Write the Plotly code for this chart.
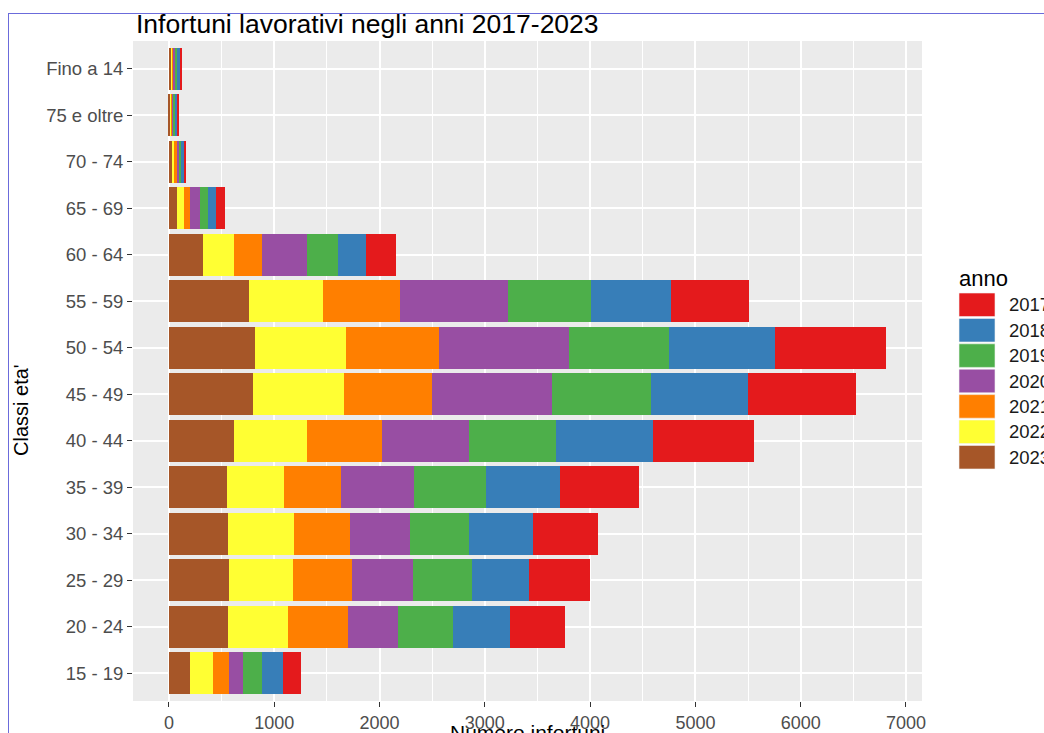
import plotly.graph_objects as go

categories = ["15 - 19", "20 - 24", "25 - 29", "30 - 34", "35 - 39", "40 - 44",
              "45 - 49", "50 - 54", "55 - 59", "60 - 64", "65 - 69", "70 - 74",
              "75 e oltre", "Fino a 14"]

v2023 = [201, 557, 572, 557, 554, 618, 802, 820, 757, 324, 73, 38, 15, 20]
v2022 = [218, 570, 602, 631, 542, 690, 865, 865, 711, 292, 69, 10, 10, 10]
v2021 = [153, 570, 567, 531, 538, 712, 831, 878, 723, 264, 57, 25, 10, 15]
v2020 = [127, 483, 573, 566, 695, 832, 1140, 1232, 1034, 432, 98, 22, 12, 15]
v2019 = [185, 518, 569, 566, 680, 823, 943, 952, 784, 291, 76, 22, 15, 20]
v2018 = [195, 542, 538, 602, 708, 920, 920, 1007, 755, 265, 73, 25, 18, 30]
v2017 = [171, 523, 574, 618, 750, 957, 1021, 1057, 741, 290, 82, 22, 15, 15]

years = ["2017", "2018", "2019", "2020", "2021", "2022", "2023"]
series = {"2017": v2017, "2018": v2018, "2019": v2019, "2020": v2020,
          "2021": v2021, "2022": v2022, "2023": v2023}
colors = {"2017": "#E41A1C", "2018": "#377EB8", "2019": "#4DAF4A",
          "2020": "#984EA3", "2021": "#FF7F00", "2022": "#FFFF33",
          "2023": "#A65628"}
x_ticks = [0, 1000, 2000, 3000, 4000, 5000, 6000, 7000]

FW, FH = 1044, 733
L, R, T, B = 133, 922, 41, 701
PW, PH = R - L, B - T
FONT = "Liberation Sans, Arial, sans-serif"
TICK = 18


def px2x(px):
    return (px - L) / PW


def py2y(py):
    return (B - py) / PH


fig = go.Figure()
for y in reversed(years):
    fig.add_trace(go.Bar(
        y=categories, x=series[y], orientation="h", name=y,
        marker=dict(color=colors[y], line=dict(width=0)),
        showlegend=False,
    ))

fig.update_layout(
    width=FW, height=FH,
    margin=dict(l=L, r=FW - R, t=T, b=FH - B, autoexpand=False),
    paper_bgcolor="white", plot_bgcolor="#EBEBEB",
    barmode="stack", bargap=0.1,
    font=dict(family=FONT, color="#4D4D4D", size=TICK),
)

fig.update_xaxes(
    range=[-341, 7152], tickvals=x_ticks, ticktext=[str(v) for v in x_ticks],
    showgrid=True, gridcolor="white", gridwidth=1.6,
    minor=dict(dtick=500, tick0=0, showgrid=True, gridcolor="white", gridwidth=0.8),
    ticks="outside", ticklen=5, tickcolor="#333333", tickwidth=1.2,
    tickfont=dict(size=TICK, color="#4D4D4D"),
    zeroline=False, showline=False,
)
fig.update_yaxes(
    type="category", categoryorder="array", categoryarray=categories,
    range=[-0.6, len(categories) - 0.4],
    showgrid=True, gridcolor="white", gridwidth=1.6,
    ticks="outside", ticklen=5, tickcolor="#333333", tickwidth=1.2,
    tickfont=dict(size=TICK + 0.5, color="#4D4D4D"),
    zeroline=False, showline=False,
)

annotations = [
    dict(text="Infortuni lavorativi negli anni 2017-2023", xref="paper", yref="paper",
         x=px2x(134), y=py2y(24), xanchor="left", yanchor="middle", showarrow=False,
         font=dict(size=26.5, color="black", family=FONT)),
    dict(text="Numero infortuni", xref="paper", yref="paper",
         x=px2x(527), y=py2y(719), xanchor="center", yanchor="top", showarrow=False,
         font=dict(size=21, color="black", family=FONT)),
    dict(text="Classi eta'", xref="paper", yref="paper", textangle=-90,
         x=px2x(21), y=py2y(410), xanchor="center", yanchor="middle", showarrow=False,
         font=dict(size=20, color="black", family=FONT)),
    dict(text="anno", xref="paper", yref="paper",
         x=px2x(957), y=py2y(278), xanchor="left", yanchor="middle", showarrow=False,
         font=dict(size=22, color="black", family=FONT)),
]

shapes = [
    dict(type="line", xref="paper", yref="paper", x0=px2x(8), x1=px2x(1044),
         y0=py2y(13.5), y1=py2y(13.5), line=dict(color="#6B6BDB", width=1)),
    dict(type="line", xref="paper", yref="paper", x0=px2x(8.5), x1=px2x(8.5),
         y0=py2y(13), y1=py2y(733), line=dict(color="#6B6BDB", width=1)),
]

for i, y in enumerate(years):
    top = 293 + i * 25.4
    shapes.append(dict(type="rect", xref="paper", yref="paper",
                       x0=px2x(959), x1=px2x(995), y0=py2y(top), y1=py2y(top + 23.6),
                       fillcolor=colors[y], line=dict(width=0.6, color="#F2F2F2")))
    annotations.append(dict(text=y, xref="paper", yref="paper",
                            x=px2x(1007), y=py2y(top + 11.8), xanchor="left",
                            yanchor="middle", showarrow=False,
                            font=dict(size=18.5, color="#1A1A1A", family=FONT)))

fig.update_layout(annotations=annotations, shapes=shapes)

fig.write_html(
    "out.html",
    config={"displayModeBar": False},
    post_script="document.body.style.margin='0';document.body.style.overflow='hidden';"
                "document.documentElement.style.overflow='hidden';",
)
